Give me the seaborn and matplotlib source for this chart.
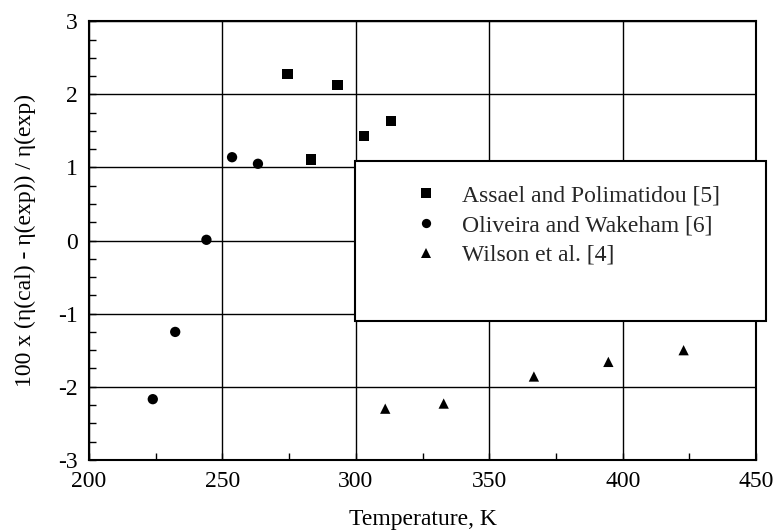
import matplotlib
matplotlib.use("Agg")
import matplotlib.pyplot as plt
from matplotlib.patches import Rectangle
from matplotlib.ticker import MultipleLocator
import numpy as np
import pandas as pd
import seaborn as sns

# Viscosity deviations of the correlation from experimental data sets
assael_T = [274.4, 283.3, 293.1, 303.1, 313.2]
assael_dev = [2.28, 1.11, 2.13, 1.43, 1.64]

oliveira_T = [223.9, 232.3, 244.0, 253.6, 263.3]
oliveira_dev = [-2.17, -1.25, 0.01, 1.14, 1.05]

wilson_T = [311.0, 332.9, 366.7, 394.6, 422.8]
wilson_dev = [-2.30, -2.23, -1.86, -1.66, -1.50]

labels = ["Assael and Polimatidou [5]", "Oliveira and Wakeham [6]", "Wilson et al. [4]"]
x_ticks = [200, 250, 300, 350, 400, 450]
y_ticks = [-3, -2, -1, 0, 1, 2, 3]

df = pd.DataFrame({
    "T": assael_T + oliveira_T + wilson_T,
    "dev": assael_dev + oliveira_dev + wilson_dev,
    "source": [labels[0]] * len(assael_T) + [labels[1]] * len(oliveira_T)
              + [labels[2]] * len(wilson_T),
})

sns.set_theme(style="white")
plt.rcParams["font.family"] = ["Liberation Serif", "DejaVu Serif"]

fig = plt.figure(figsize=(7.74, 5.31), dpi=100)
ax = fig.add_axes([0.115, 0.134, 0.862, 0.826])

sns.scatterplot(
    data=df, x="T", y="dev", hue="source", style="source",
    hue_order=labels, style_order=labels,
    palette=["black"] * 3, markers=["s", "o", "^"],
    s=55, edgecolor="black", linewidth=0, ax=ax, zorder=3,
)

ax.set_xlim(200, 450)
ax.set_ylim(-3, 3)
ax.set_xticks(x_ticks)
ax.set_yticks(y_ticks)
ax.set_xticklabels([str(t) for t in x_ticks])
ax.set_yticklabels([str(t) for t in y_ticks])
ax.xaxis.set_minor_locator(MultipleLocator(25))
ax.yaxis.set_minor_locator(MultipleLocator(0.25))
ax.tick_params(axis="both", which="both", direction="in", colors="black",
               labelsize=17, bottom=True, left=True, top=False, right=False)
ax.tick_params(which="major", length=5, width=1)
ax.tick_params(which="minor", length=5, width=1)
ax.tick_params(axis="x", pad=8)
ax.tick_params(axis="y", pad=8)

ax.grid(True, which="major", color="black", linewidth=1.0)
for sp in ax.spines.values():
    sp.set_color("black")
    sp.set_linewidth(1.5)

ax.set_xlabel("Temperature, K", fontsize=17, labelpad=12, color="black")
ax.set_ylabel("100 x (η(cal) - η(exp)) / η(exp)", fontsize=17, labelpad=16,
              color="black")

# Legend panel: an oversized white box with the entries near its top
box = Rectangle((0.4587, 0.3955), 0.531, 0.3013, transform=fig.transFigure,
                facecolor="white", edgecolor="black", linewidth=1.5,
                zorder=5, clip_on=False)
ax.add_patch(box)
handles, lbls = ax.get_legend_handles_labels()
leg = ax.legend(handles, lbls, loc="upper left", bbox_to_anchor=(0.527, 0.652),
                bbox_transform=fig.transFigure, frameon=False, fontsize=17,
                markerscale=0.9, handletextpad=0.8, labelspacing=0.35,
                borderpad=0, borderaxespad=0, handlelength=1.5)
leg.set_zorder(6)

fig.savefig("out.png", dpi=100)
